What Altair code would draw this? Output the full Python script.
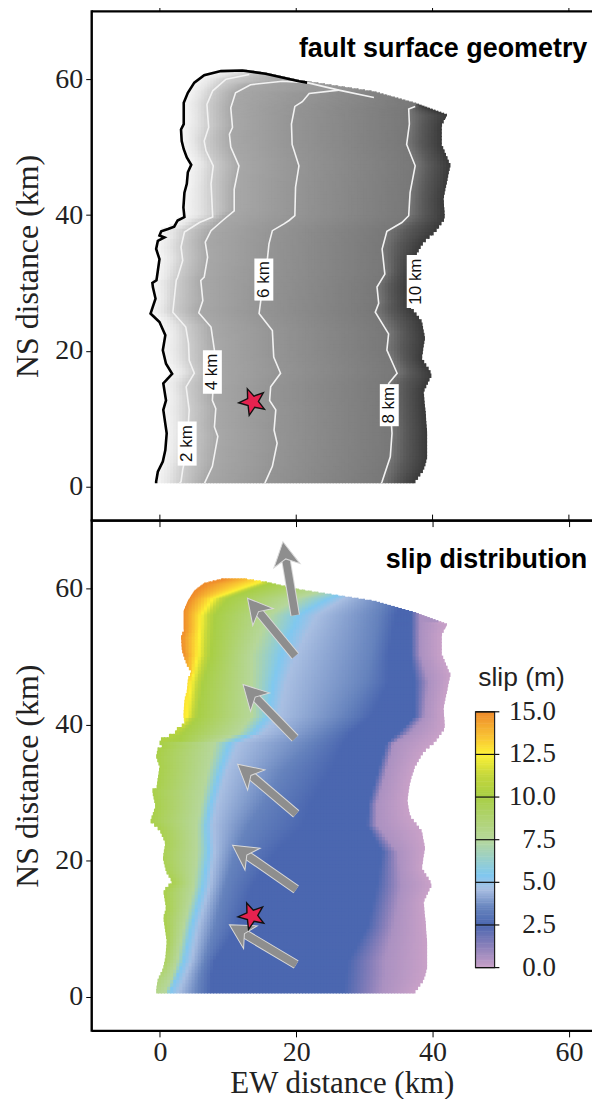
import numpy as np
import pandas as pd
import altair as alt

# ---------- outline of the fault surface (km) ----------
left_y = [0.5,0.75,2.2,3.7,5.4,7.85,11.3,12.7,15.2,16.6,18.1,20.1,22.3,24.25,25.5,27.7,29.4,30.0,30.4,31.8,33.5,35,36.2,36.7,37,37.6,37.95,38.3,39.2,39.7,41.1,43.3,44.6,46.3,47.4,48.5,49.7,50.9,52.6,53.4,56.55,58,59.5,60.6,61.2,61.3]
left_x = [-0.55,-0.55,-0.3,0.43,0.8,1,0.5,0.9,0.5,1.8,0.9,0.43,0.8,-0.06,-1.37,-0.64,-1.03,-1.1,-0.5,-0.3,-0.06,-0.55,-0.3,0.67,-0.06,0.2,1.2,2.1,2.6,3.6,3.45,3.6,3.95,4.1,4.6,3.95,3.5,3.2,3.1,3.5,3.5,4.1,5.05,6.5,8.95,12.1]
top_line_x = [12.1,15.5,20.4,21.6]
top_line_y = [61.3,60.8,59.7,59.5]
right_y = [0.5,0.75,2.2,3.9,7.85,11.3,13.7,16.2,18.6,21.6,24,26.2,28.5,31.3,33.5,35.75,37.2,39.2,42.1,47,50,52.9,54.6,56.3,58,59.5,59.7,60.8,61.3]
right_x = [37.5,37.7,38.7,39.2,39.2,38.9,38.7,39.9,38.4,38.9,38.4,36.7,36.3,36.7,37.4,38.7,40.4,41.8,41.6,42.6,41.35,41.35,42.1,37.45,31.4,21.6,20.4,15.5,12.1]

# ---------- depth contours (km) ----------
c2_y = [0.5,0.75,2.5,5,8,11.3,14.7,16.7,18.6,21.1,23.5,25.7,30.4,30.8,33.3,35.3,37.5,38.9,39.7,44.6,47.25,49.5,50.9,52.9,56.3,58.3,60,60.7]
c2_x = [2.9,3.1,3.35,3.9,4.1,4.3,3.85,5.05,4.3,4.2,3.8,1.9,2.4,2.6,3.35,3.1,3.6,5.8,7.75,7.5,7.83,6.76,6.5,7.15,6.9,7.75,9.7,13.1]
c4_y = [0.5,0.75,3,7.4,8.8,11.5,12.7,16,20.1,23.5,25.6,27.4,30.37,30.85,33.8,36,37.7,39.2,40.6,43.8,47.25,50,51.9,52.9,55.8,58,59.2,59.7,59.5,58.4,57.3]
c4_x = [6.55,6.66,7.7,8.5,8,8.2,7.7,7.9,8,7.5,5.7,6.3,6,6.5,7,6.66,7.5,9.2,10.9,10.9,11.6,10.4,10.2,10.65,10.4,11.1,13.3,18,21.6,26.25,31.4]
c6_y = [0.5,0.75,3,6.4,8.3,11.3,12.7,14.7,16.7,19.1,23,25.5,27.4,30.5,33.8,35.75,37.7,38.7,39.2,39.9,44.1,47.25,50.4,53.4,56,56.7,57.9,58.4]
c6_x = [15.4,15.5,16.5,17.2,16.75,17,16.1,16.25,17.7,16.7,16.5,14.55,14.8,15.3,15.8,16,16.5,18.2,18.95,19.8,19.9,20.4,19.4,19.3,19.8,20.9,21.9,26.25]
c8_y = [0.5,0.75,4.4,7.85,12,15.2,16.7,20.1,22.5,25.7,27,29.4,31.3,35,37.6,38.9,39.9,43.3,47.25,50.4,53.4,55.6,56]
c8_x = [32.5,32.6,33.8,34.05,33.8,33.56,34.8,33.3,33.55,31.6,32.1,31.85,33,32.6,33.3,35.5,36.5,36.7,37.45,36.2,36.6,36.5,37.45]
depth_levels = [2, 4, 6, 8]
depth_domain = [0, 1, 2, 4, 6, 8, 9, 10.5]
depth_range = ["#f6f6f6", "#e6e6e6", "#cdcdcd", "#a8a8a8", "#959595", "#787878", "#5a5a5a", "#3a3a3a"]

# contour labels: text, EW, NS, box lower and upper NS
lab_text = ["2 km", "4 km", "6 km", "8 km", "10 km"]
lab_x = [4.0, 7.7, 15.25, 33.65, 37.6]
lab_y = [6.35, 16.9, 30.5, 12.0, 30.2]
lab_lo = [3.1, 13.7, 27.4, 8.9, 26.3]
lab_hi = [9.6, 20.1, 33.6, 15.1, 34.1]

# ---------- slip field: position (km) of slip levels by NS row ----------
ns_rows = [0.5,3,5,10,16,21,25,28,33,37,38.5,41,46,50,56,58.5,61.3]
x_750 = [0.8,1.9,2.5,3.5,5,5.5,5.5,6,7,8,11.5,13.5,13.5,13.5,16,20,30]
x_540 = [1.5,2.6,3.5,4.6,6.3,7.1,6.8,7.4,8.8,10.2,13.6,15.8,16.7,17.8,20.3,24.8,35]
x_460 = [2.8,3.8,4.6,5.6,7.3,8,7.8,8.4,9.8,11.5,15,17.5,18.5,20,23,27,37]
x_350 = [5.5,5.9,6.5,8,9.5,11,13,15,18,22,24,27,30,31,32,33,40]
x_250 = [7.4,7.6,8,11.3,13.5,17,21,22,25,27,28,31,33.5,33.5,34.5,36,40]
x_250r = [27,27.3,27.6,30.4,31.8,32.6,30.4,30.6,32,33.2,34.9,37.4,37.4,36.8,36.8,36.8,40]
x_060r = [32.6,33,33,34.3,35.4,34.9,31.8,31.8,33.2,34.3,36.6,38.8,39.4,38.2,38.2,38.2,40]
edge_y = [0.5,5,10,16,21,25,33,37,38,39.5,41,46,48,50,61.3]
edge_s = [8,9.2,9.8,9.8,9.5,9.8,9.8,10,10.5,11.5,12.8,13,14,15,15]
hi_y = [38,41,46,50,56,58.5,60,61,61.3]
x_1250 = [1.2,4,4.6,5.6,6,7.8,12,15,16]
x_1000 = [3,5.5,6.3,7.5,8,10,14,17,18]
slip_domain = [0, 1.25, 2.5, 3.5, 4.6, 5.4, 7.5, 10, 11.2, 12.5, 13.5, 15]
slip_range = ["#c9a1c8", "#8a80ba", "#4b67b0", "#6683bd", "#a9bfe2", "#80c8f0", "#b6d79b", "#a9cf45", "#c2d63c", "#fdf135", "#f9c433", "#ee8a2c"]

# ---------- arrows and hypocentre ----------
tail_x = [19.85, 19.85, 19.85, 20, 20, 20]
tail_y = [56.1, 50.1, 38.0, 26.9, 15.8, 4.75]
tip_x = [18.05, 12.85, 12.2, 11.4, 10.65, 10.2]
tip_y = [66.9, 58.6, 45.9, 34.2, 22.3, 10.6]
star_top = (13.6, 12.5)
star_bot = (13.5, 11.9)

x_ticks = [0, 20, 40, 60]
y_ticks = [0, 20, 40, 60]
bar_ticks = [0, 2.5, 5, 7.5, 10, 12.5, 15]
bar_labels = ["0.0", "2.5", "5.0", "7.5", "10.0", "12.5", "15.0"]
bar_x0, bar_x1, bar_xt, bar_xl = 46.3, 49.1, 49.8, 58.1
bar_y0, bar_y1 = 4.3, 41.9

SERIF = "Liberation Serif"
SANS = "Liberation Sans"
W, H1, H2 = 502, 511, 512
xscale = alt.Scale(domain=[-10, 63.39], nice=False, zero=False)
yscale = alt.Scale(domain=[-5, 70], nice=False, zero=False)


def X(f, **kw):
    return alt.X(f, type="quantitative", scale=xscale, **kw)


def Y(f, **kw):
    return alt.Y(f, type="quantitative", scale=yscale, **kw)


def rising(px, py):
    i = int(np.argmax(py))
    return np.array(px[: i + 1], float), np.array(py[: i + 1], float)


def level_x(px, py, y):
    xx, yy = rising(px, py)
    return float(np.interp(y, yy, xx))


rows = np.concatenate([np.arange(0.5, 54, 0.5), np.arange(54, 61.3, 0.15)])
L_ = lambda y: float(np.interp(y, left_y, left_x))
R_ = lambda y: float(np.interp(y, right_y, right_x))
grid = np.arange(-3, 44, 0.45)


def cells(stops_of, name):
    out = []
    for i, y in enumerate(rows):
        L, R = L_(y), R_(y)
        if R <= L:
            continue
        dy = (rows[i + 1] - y) if i + 1 < len(rows) else 0.15
        st = sorted(stops_of(y, L, R), key=lambda a: a[0])
        xs = np.array([a[0] for a in st])
        vs = np.array([a[1] for a in st])
        edges = [L] + [g for g in grid if L < g < R] + [R]
        for a, b in zip(edges[:-1], edges[1:]):
            out.append({"x": round(a, 3), "x2": round(min(b + 0.16, R), 3), "y": round(float(y), 3),
                        "y2": round(float(y) + dy + 0.16, 3), name: round(float(np.interp((a + b) / 2, xs, vs)), 3)})
    return pd.DataFrame(out)


def depth_stops(y, L, R):
    st = [(L, 0.0)]
    for lev, (px, py) in zip(depth_levels, [(c2_x, c2_y), (c4_x, c4_y), (c6_x, c6_y), (c8_x, c8_y)]):
        xv = level_x(px, py, y)
        if xv > L and (y >= 56.2 or xv < R):
            st.append((xv, float(lev)))
    if y < 56.2:
        st.append((R, 10.5))
    return st


def slip_stops(y, L, R):
    se = float(np.interp(y, edge_y, edge_s))
    st = [(L, se)]
    for lev, arr, ys in [(12.5, x_1250, hi_y), (10, x_1000, hi_y), (7.5, x_750, ns_rows), (5.4, x_540, ns_rows),
                         (4.6, x_460, ns_rows), (3.5, x_350, ns_rows), (2.5, x_250, ns_rows), (2.5, x_250r, ns_rows),
                         (0.6, x_060r, ns_rows)]:
        xv = float(np.interp(y, ys, arr))
        if lev < se and xv > L and (y >= 55 or xv < R):
            st.append((xv, lev))
    if y < 55:
        st.append((R, 0.0))
    return st


def line(px, py, color, width):
    df = pd.DataFrame({"x": px, "y": py, "i": range(len(px))})
    return alt.Chart(df).mark_line(color=color, strokeWidth=width, clip=True).encode(
        x=X("x"), y=Y("y"), order=alt.Order("i:Q"))


def star_layer(pos):
    pts = []
    for k in range(10):
        r = 1 if k % 2 == 0 else 0.42
        t = np.pi * k / 5
        pts.append(f"{r*np.sin(t):.3f},{-r*np.cos(t):.3f}")
    path = "M" + " L".join(pts) + " Z"
    df = pd.DataFrame({"x": [pos[0]], "y": [pos[1]]})
    return alt.Chart(df).mark_point(shape=path, size=784, filled=True, fill="#e6224f", stroke="#111111",
                                    strokeWidth=1.4, opacity=1, angle=338).encode(x=X("x"), y=Y("y"))


top_ticks = pd.DataFrame({"t": x_ticks})
tick_rule = alt.Chart(top_ticks).mark_rule(color="black", strokeWidth=1).encode(
    x=X("t"), y=alt.value(0), y2=alt.value(-6))


def spines(h):
    d = pd.DataFrame({"a": [0]})
    v = alt.Chart(d).mark_rule(color="black", strokeWidth=2.4).encode(
        x=alt.value(0), y=alt.value(-1), y2=alt.value(h + 1))
    t = alt.Chart(d).mark_rule(color="black", strokeWidth=2.4).encode(
        y=alt.value(0), x=alt.value(0), x2=alt.value(W))
    b = alt.Chart(d).mark_rule(color="black", strokeWidth=2.4).encode(
        y=alt.value(h), x=alt.value(0), x2=alt.value(W))
    return [v, t, b]


def panel_title(text, x, y):
    df = pd.DataFrame({"x": [x], "y": [y], "t": [text]})
    return alt.Chart(df).mark_text(font=SANS, fontWeight="bold", fontSize=27, align="right", baseline="middle",
                                   color="black").encode(x=X("x"), y=Y("y"), text="t:N")


yaxis = alt.Axis(values=y_ticks, title="NS distance (km)", titleFont=SERIF, titleFontSize=32, titleFontWeight="normal",
                 titleColor="#222222", labelFont=SERIF, labelFontSize=28, labelColor="#222222", domain=False, grid=False,
                 tickSize=6, tickColor="black", tickWidth=1, labelPadding=3, titlePadding=10)

# ---------- top panel ----------
gf = cells(depth_stops, "d")
field_top = alt.Chart(gf).mark_rect().encode(
    x=X("x", axis=alt.Axis(values=x_ticks, labels=False, title=None, domain=False, grid=False, tickSize=6,
                           tickColor="black", tickWidth=1)),
    x2="x2:Q",
    y=Y("y", axis=yaxis),
    y2="y2:Q",
    color=alt.Color("d:Q", scale=alt.Scale(domain=depth_domain, range=depth_range, interpolate="rgb"), legend=None),
)
labels_df = pd.DataFrame({"x": lab_x, "y": lab_y, "t": lab_text, "lo": lab_lo, "hi": lab_hi})
box = alt.Chart(labels_df).mark_rect(color="white", width=19).encode(
    x=X("x"), y=Y("lo"), y2="hi:Q")
lab = alt.Chart(labels_df).mark_text(font=SANS, fontSize=17, angle=270, color="#111111", align="center",
                                     baseline="middle").encode(x=X("x"), y=Y("y"), text="t:N")
outline_x = left_x + top_line_x
outline_y = left_y + top_line_y

top = alt.layer(
    field_top,
    line(c2_x, c2_y, "#f2f2f2", 1.6),
    line(c4_x, c4_y, "#f2f2f2", 1.6),
    line(c6_x, c6_y, "#f2f2f2", 1.6),
    line(c8_x, c8_y, "#f2f2f2", 1.6),
    line(outline_x, outline_y, "black", 2.6),
    box, lab,
    star_layer(star_top),
    panel_title("fault surface geometry", 62.7, 64.5),
    tick_rule, *spines(H1),
).properties(width=W, height=H1)

# ---------- bottom panel ----------
sf = cells(slip_stops, "s")
slip_scale = alt.Scale(domain=slip_domain, range=slip_range, interpolate="rgb")
field_bot = alt.Chart(sf).mark_rect().encode(
    x=X("x", axis=alt.Axis(values=x_ticks, title="EW distance (km)", titleFont=SERIF, titleFontSize=31,
                           titleFontWeight="normal", titleColor="#222222", labelFont=SERIF, labelFontSize=28,
                           labelColor="#222222", domain=False, grid=False, tickSize=6, tickColor="black", tickWidth=1,
                           labelPadding=2, titlePadding=2)),
    x2="x2:Q",
    y=Y("y", axis=yaxis),
    y2="y2:Q",
    color=alt.Color("s:Q", scale=slip_scale, legend=None),
)

tx, ty, hx, hy = map(lambda a: np.array(a, float), (tail_x, tail_y, tip_x, tip_y))
ln = np.hypot(tx - hx, ty - hy)
arrows = pd.DataFrame({"tx": tx, "ty": ty, "hx": hx, "hy": hy,
                       "nx": hx + (tx - hx) / ln * 2.3, "ny": hy + (ty - hy) / ln * 2.3,
                       "a": np.degrees(np.arctan2(hx - tx, hy - ty)) % 360})
shaft_o = alt.Chart(arrows).mark_rule(color="#d9d9d9", strokeWidth=9.5).encode(
    x=X("tx"), x2="nx:Q", y=Y("ty"), y2="ny:Q")
shaft = alt.Chart(arrows).mark_rule(color="#8e8e8e", strokeWidth=7.5).encode(
    x=X("tx"), x2="nx:Q", y=Y("ty"), y2="ny:Q")
head = alt.Chart(arrows).mark_point(shape="M0,0 L0.95,1.75 L0,1.25 L-0.95,1.75 Z", size=784, filled=True,
                                    fill="#8e8e8e", stroke="#d9d9d9", strokeWidth=1, opacity=1).encode(
    x=X("hx"), y=Y("hy"), angle=alt.Angle("a:Q", scale=None))

bar_s = np.arange(0, 15, 0.1)
bar_k = (bar_y1 - bar_y0) / 15
bar_df = pd.DataFrame({"x": bar_x0, "x2": bar_x1, "y": bar_y0 + bar_s * bar_k, "y2": bar_y0 + (bar_s + 0.13) * bar_k,
                       "s": bar_s + 0.05})
bar = alt.Chart(bar_df).mark_rect().encode(x=X("x"), x2="x2:Q", y=Y("y"), y2="y2:Q",
                                           color=alt.Color("s:Q", scale=slip_scale, legend=None))
frame_df = pd.DataFrame({"x": [bar_x0], "x2": [bar_x1], "y": [bar_y0], "y2": [bar_y1]})
frame = alt.Chart(frame_df).mark_rect(fill=None, stroke="#222222", strokeWidth=1.2).encode(
    x=X("x"), x2="x2:Q", y=Y("y"), y2="y2:Q")
tick_df = pd.DataFrame({"x": bar_x0, "x2": bar_xt, "xl": bar_xl, "y": bar_y0 + np.array(bar_ticks) * bar_k,
                        "t": bar_labels})
bar_t = alt.Chart(tick_df).mark_rule(color="#111111", strokeWidth=1.2).encode(x=X("x"), x2="x2:Q", y=Y("y"))
bar_l = alt.Chart(tick_df).mark_text(font=SERIF, fontSize=27, color="#222222", align="right", baseline="middle").encode(
    x=X("xl"), y=Y("y"), text="t:N")
slip_t = alt.Chart(pd.DataFrame({"x": [46.7], "y": [46.8], "t": ["slip (m)"]})).mark_text(
    font=SANS, fontSize=26.5, color="#222222", align="left", baseline="middle").encode(x=X("x"), y=Y("y"), text="t:N")

bottom = alt.layer(
    field_bot, shaft_o, shaft, head,
    star_layer(star_bot),
    bar, frame, bar_t, bar_l, slip_t,
    panel_title("slip distribution", 62.7, 64.2),
    tick_rule, *spines(H2),
).properties(width=W, height=H2)

chart = alt.vconcat(top, bottom, spacing=0, bounds="flush").resolve_scale(color="independent").properties(
    padding={"left": 4, "top": -5.5, "right": 0, "bottom": 0}
).configure_view(strokeWidth=0).configure_concat(spacing=0)

chart.save("out.html", embed_options={"renderer": "svg", "actions": False})
